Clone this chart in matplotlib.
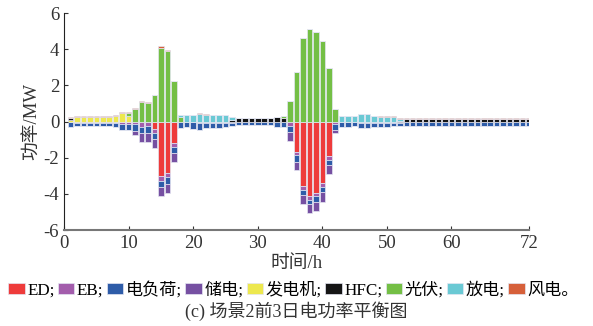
import numpy as np
import matplotlib
matplotlib.use("Agg")
import matplotlib.pyplot as plt

plt.rcParams['font.family'] = ['Liberation Serif', 'Noto Sans CJK SC']
plt.rcParams['axes.unicode_minus'] = False

# hourly data, 3 days
hours = np.arange(1, 73)

# negative side (consumption), MW
ed = np.zeros(72)
ed[[13, 14, 15, 16]] = [-0.4, -3.02, -2.84, -1.18]
ed[[35, 36, 37, 38, 39, 40]] = [-1.66, -3.54, -4.09, -3.94, -3.39, -1.88]

eb = np.array([0, -0.07, -0.07, -0.07, -0.07, -0.07, -0.07, -0.09, -0.16, -0.13,
               -0.13, -0.29, -0.26, -0.22, -0.28, -0.22, -0.22, 0, 0, -0.03,
               -0.09, -0.07, -0.07, -0.07, -0.05, -0.05, 0, 0, 0, 0,
               0, 0, 0, 0, -0.22, -0.2, -0.22, -0.22, -0.18, -0.22,
               -0.22, -0.13, 0, 0, 0, -0.09, -0.09, -0.07, -0.07, -0.07,
               -0.07, -0.07] + [-0.03] * 20)

load = np.array([-0.28, -0.2, -0.2, -0.2, -0.2, -0.2, -0.2, -0.22, -0.3, -0.33,
                 -0.37, -0.33, -0.37, -0.33, -0.31, -0.37, -0.33, -0.35, -0.31, -0.36,
                 -0.35, -0.31, -0.28, -0.28, -0.24, -0.22, -0.2, -0.2, -0.2, -0.2,
                 -0.2, -0.2, -0.31, -0.3, -0.35, -0.37, -0.31, -0.24, -0.31, -0.29,
                 -0.29, -0.31, -0.28, -0.28, -0.26, -0.28, -0.28, -0.23, -0.22, -0.22,
                 -0.2, -0.15] + [-0.2] * 20)

charge = np.zeros(72)
charge[10:17] = [-0.25, -0.48, -0.48, -0.5, -0.52, -0.52, -0.48]
charge[34:42] = [-0.5, -0.46, -0.5, -0.5, -0.5, -0.52, -0.5, -0.18]

# positive side (supply), MW
gen = np.zeros(72)
gen[0:10] = [0.08, 0.23, 0.23, 0.23, 0.23, 0.23, 0.24, 0.3, 0.46, 0.33]

hfc = np.zeros(72)
hfc[0] = 0.13
hfc[25:34] = [0.1, 0.2, 0.2, 0.2, 0.2, 0.2, 0.2, 0.28, 0.22]
hfc[51] = 0.05
hfc[52:72] = 0.17

pv = np.zeros(72)
pv[9:18] = [0.15, 0.7, 1.07, 1.03, 1.47, 4.09, 3.89, 2.25, 0.26]
pv[33:42] = [0.09, 1.12, 2.76, 4.62, 5.1, 4.95, 4.46, 2.95, 0.68]

discharge = np.zeros(72)
discharge[17:26] = [0.1, 0.35, 0.35, 0.41, 0.36, 0.34, 0.34, 0.37, 0.15]
discharge[42:52] = [0.31, 0.31, 0.3, 0.4, 0.4, 0.33, 0.28, 0.26, 0.26, 0.11]

wind = np.zeros(72)
wind[0:17] = [0.07, 0.07, 0.07, 0.07, 0.07, 0.07, 0.07, 0.07, 0.07, 0.06,
              0.07, 0.07, 0.07, 0.02, 0.07, 0.07, 0.02]
wind[17:25] = [0.03, 0.02, 0.02, 0.07, 0.06, 0.05, 0.05, 0]
wind[48:52] = [0.05, 0.05, 0.05, 0.04]
wind[52:72] = 0.05

neg_series = [ed, eb, load, charge]
neg_names = ['ED;', 'EB;', '电负荷;', '储电;']
neg_colors = ['#EE3B3B', '#A35DAC', '#2E5CA8', '#7650A2']

pos_series = [gen, hfc, pv, discharge, wind]
pos_names = ['发电机;', 'HFC;', '光伏;', '放电;', '风电。']
pos_colors = ['#EDE84E', '#151515', '#74BF45', '#6AC9D4', '#D6603A']

fig = plt.figure(figsize=(5.93, 3.26), dpi=100)
ax = fig.add_axes([0.108, 0.294, 0.784, 0.666])

w = 0.85
handles = []
bottom = np.zeros(72)
for vals, name, col in zip(neg_series, neg_names, neg_colors):
    b = ax.bar(hours, vals, w, bottom=bottom, color=col, edgecolor='#e4e6f2',
               linewidth=0.5, label=name)
    handles.append(b)
    bottom = bottom + vals
bottom = np.zeros(72)
for vals, name, col in zip(pos_series, pos_names, pos_colors):
    b = ax.bar(hours, vals, w, bottom=bottom, color=col, edgecolor='#e4e6f2',
               linewidth=0.5, label=name)
    handles.append(b)
    bottom = bottom + vals

ax.set_xlim(0, 72)
ax.set_ylim(-6, 6)
ax.set_xticks([0, 10, 20, 30, 40, 50, 60, 72])
ax.set_yticks([-6, -4, -2, 0, 2, 4, 6])
ax.tick_params(direction='in', labelsize=13.5, colors='#333333', length=3)
for t in ax.get_xticklabels() + ax.get_yticklabels():
    t.set_color('#333333')
ax.spines['top'].set_visible(False)
ax.spines['right'].set_visible(False)
ax.spines['left'].set_color('#222222')
ax.spines['bottom'].set_color('#777777')
ax.spines['bottom'].set_linewidth(1.5)

ax.set_xlabel('时间/h', fontsize=13.5, color='#333333', labelpad=2)
ax.set_ylabel('功率/MW', fontsize=13.5, color='#333333', labelpad=2)

leg_labels = neg_names + pos_names
fig.legend([h.patches[0] for h in handles], leg_labels, loc='center',
           bbox_to_anchor=(0.495, 0.11), ncol=9, frameon=False, fontsize=12.3,
           handlelength=0.95, handleheight=0.55, handletextpad=0.15,
           columnspacing=0.2, borderaxespad=0, borderpad=0)

fig.text(0.5, 0.045, '(c) 场景2前3日电功率平衡图', ha='center', va='center',
         fontsize=13, color='#333333')

fig.savefig('out.png', dpi=100)
